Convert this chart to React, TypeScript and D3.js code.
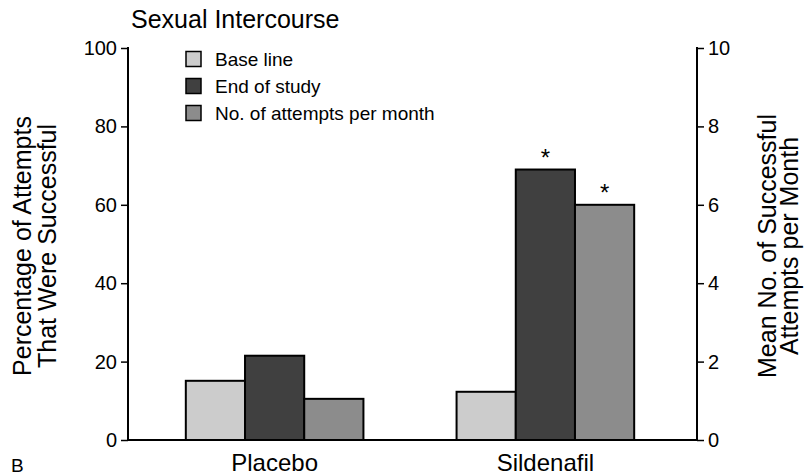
import * as d3 from 'd3';
import { useEffect, useRef } from 'react';

const categories = ['Placebo', 'Sildenafil'];
const seriesNames = ['Base line', 'End of study', 'No. of attempts per month'];
// percentage of attempts that were successful (left axis)
const baseLine = [15.1, 12.3];
const endOfStudy = [21.5, 69.0];
// mean no. of successful attempts per month (right axis)
const attemptsPerMonth = [1.05, 6.0];
const significant = [
  [false, false, false],
  [false, true, true],
];
const leftTicks = [0, 20, 40, 60, 80, 100];
const rightTicks = [0, 2, 4, 6, 8, 10];
const colors = ['#cccccc', '#404040', '#8c8c8c'];

const FONT = '"Liberation Sans", Arial, Helvetica, sans-serif';

export default function App() {
  const svgRef = useRef<SVGSVGElement | null>(null);

  useEffect(() => {
    document.body.style.margin = '0';
    if (!svgRef.current) return;
    const svg = d3.select(svgRef.current);
    svg.selectAll('*').remove();
    svg.attr('font-family', FONT);

    const top = 48, bottom = 440, leftX = 128, rightX = 697;

    const yLeft = d3.scaleLinear().domain([0, 100]).range([bottom, top]);
    const yRight = d3.scaleLinear().domain([0, 10]).range([bottom, top]);

    const x0 = d3.scaleBand<string>().domain(categories).range([123, 697])
      .paddingInner(0.344).paddingOuter(0.232);
    const x1 = d3.scaleBand<string>().domain(seriesNames).range([0, x0.bandwidth()]);

    // bars
    const bars = categories.flatMap((c, i) => [
      { cat: c, s: 0, y: yLeft(baseLine[i]) },
      { cat: c, s: 1, y: yLeft(endOfStudy[i]) },
      { cat: c, s: 2, y: yRight(attemptsPerMonth[i]) },
    ].map(b => ({ ...b, star: significant[i][b.s] })));

    svg.append('g')
      .selectAll('rect')
      .data(bars)
      .join('rect')
      .attr('x', d => x0(d.cat)! + x1(seriesNames[d.s])!)
      .attr('y', d => d.y)
      .attr('width', x1.bandwidth())
      .attr('height', d => bottom - d.y)
      .attr('fill', d => colors[d.s])
      .attr('stroke', '#000')
      .attr('stroke-width', 2);

    svg.append('g')
      .selectAll('text')
      .data(bars.filter(b => b.star))
      .join('text')
      .attr('x', d => x0(d.cat)! + x1(seriesNames[d.s])! + x1.bandwidth() / 2)
      .attr('y', d => d.y - 4)
      .attr('text-anchor', 'middle')
      .attr('font-size', 24)
      .text('*');

    // axes
    const gl = svg.append('g').attr('transform', `translate(${leftX},0)`)
      .call(d3.axisLeft(yLeft).tickValues(leftTicks).tickSize(7).tickPadding(4));
    const gr = svg.append('g').attr('transform', `translate(${rightX},0)`)
      .call(d3.axisRight(yRight).tickValues(rightTicks).tickSize(7).tickPadding(4));
    [gl, gr].forEach(g => {
      g.select('.domain').remove();
      g.selectAll('line').attr('stroke', '#000').attr('stroke-width', 1.5);
      g.selectAll('text').attr('font-size', 20).attr('font-family', FONT).attr('fill', '#000');
    });

    svg.append('line').attr('x1', leftX).attr('x2', leftX).attr('y1', top - 1).attr('y2', bottom)
      .attr('stroke', '#000').attr('stroke-width', 2);
    svg.append('line').attr('x1', rightX).attr('x2', rightX).attr('y1', top - 1).attr('y2', bottom)
      .attr('stroke', '#000').attr('stroke-width', 2);
    svg.append('line').attr('x1', leftX).attr('x2', rightX).attr('y1', bottom).attr('y2', bottom)
      .attr('stroke', '#000').attr('stroke-width', 2);

    // category labels
    svg.append('g')
      .selectAll('text')
      .data(categories)
      .join('text')
      .attr('x', d => x0(d)! + x0.bandwidth() / 2)
      .attr('y', 471)
      .attr('text-anchor', 'middle')
      .attr('font-size', 24)
      .text(d => d);

    // title + panel letter
    svg.append('text').attr('x', 131).attr('y', 28).attr('font-size', 25).text('Sexual Intercourse');
    svg.append('text').attr('x', 11).attr('y', 472).attr('font-size', 19).text('B');

    // axis titles
    const midY = (top + bottom) / 2 + 2;
    const leftLabel = svg.append('text')
      .attr('transform', `translate(31,${midY}) rotate(-90)`)
      .attr('text-anchor', 'middle')
      .attr('font-size', 25);
    leftLabel.append('tspan').attr('x', 0).attr('dy', 0).text('Percentage of Attempts');
    leftLabel.append('tspan').attr('x', 0).attr('dy', 25).text('That Were Successful');

    const rightLabel = svg.append('text')
      .attr('transform', `translate(776,${midY}) rotate(-90)`)
      .attr('text-anchor', 'middle')
      .attr('font-size', 25);
    rightLabel.append('tspan').attr('x', 0).attr('dy', 0).text('Mean No. of Successful');
    rightLabel.append('tspan').attr('x', 0).attr('dy', 22).text('Attempts per Month');

    // legend
    const legend = svg.append('g')
      .selectAll('g')
      .data(seriesNames)
      .join('g')
      .attr('transform', (_d, i) => `translate(186,${59 + i * 27})`);
    legend.append('rect')
      .attr('x', 0).attr('y', -7.5).attr('width', 15).attr('height', 15)
      .attr('fill', (_d, i) => colors[i])
      .attr('stroke', '#000').attr('stroke-width', 1.5);
    legend.append('text')
      .attr('x', 29).attr('y', 7)
      .attr('font-size', 19)
      .text(d => d);
  }, []);

  return <svg ref={svgRef} width={804} height={476} style={{ display: 'block' }} />;
}
